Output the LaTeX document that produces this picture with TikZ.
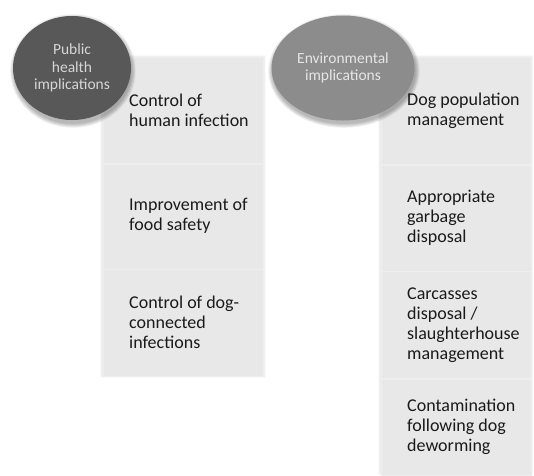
\documentclass[tikz,border=0pt]{standalone}
\usepackage{fontspec}
\setmainfont{Carlito}
\usetikzlibrary{shapes.geometric}
\definecolor{cellfill}{HTML}{E8E8E8}
\definecolor{cellline}{HTML}{EEEEEE}
\definecolor{darkell}{HTML}{585858}
\definecolor{lightell}{HTML}{8C8C8C}
\definecolor{darktxt}{HTML}{D6D6D6}
\definecolor{lighttxt}{HTML}{E6E6E6}
\definecolor{celltxt}{HTML}{1A1A1A}
\tikzset{
  cellbox/.style={draw=cellline, line width=0.5pt, fill=cellfill, inner sep=0pt, minimum width=#1},
  celltext/.style={anchor=west, align=left, inner sep=0pt, text=celltxt,
    font=\fontsize{18}{20}\selectfont},
  elltext/.style={align=center, inner sep=0pt, font=\fontsize{15.5}{17.5}\selectfont}
}
\begin{document}
\begin{tikzpicture}[x=1pt,y=-1pt]
\useasboundingbox (0,0) rectangle (534,475);
\fill[white] (0,0) rectangle (534,475);
% soft shadows of the columns
\foreach \k in {1,...,4}{
  \fill[black, opacity=0.02] ({103-\k*0.8},{57-\k*0.5}) rectangle ({263+\k*0.8},{375+\k*0.8});
  \fill[black, opacity=0.02] ({381-\k*0.8},{57-\k*0.5}) rectangle ({531+\k*0.6},{473+\k*0.5});
}
% left column cells
\node[cellbox=160pt, minimum height=106pt, anchor=north west] (l1) at (103,57) {};
\node[cellbox=160pt, minimum height=105pt, anchor=north west] (l2) at (l1.south west) {};
\node[cellbox=160pt, minimum height=107pt, anchor=north west] (l3) at (l2.south west) {};
% right column cells
\node[cellbox=150pt, minimum height=107pt, anchor=north west] (r1) at (381,57) {};
\node[cellbox=150pt, minimum height=106pt, anchor=north west] (r2) at (r1.south west) {};
\node[cellbox=150pt, minimum height=107pt, anchor=north west] (r3) at (r2.south west) {};
\node[cellbox=150pt, minimum height=96pt, anchor=north west] (r4) at (r3.south west) {};
% texts
\node[celltext] (tl1) at ([xshift=26pt]l1.west) {Control of\\human infection};
\node[celltext] (tl2) at ([xshift=26pt]l2.west) {Improvement of\\food safety};
\node[celltext] (tl3) at ([xshift=26pt]l3.west) {Control of dog-\\connected\\infections};
\node[celltext] (tr1) at ([xshift=26pt]r1.west) {Dog population\\management};
\node[celltext] (tr2) at ([xshift=26pt]r2.west) {Appropriate\\garbage\\disposal};
\node[celltext] (tr3) at ([xshift=26pt]r3.west) {Carcasses\\disposal /\\slaughterhouse\\management};
\node[celltext] (tr4) at ([xshift=26pt]r4.west) {Contamination\\following dog\\deworming};
% shadows of ellipses
\foreach \k in {1,...,6}{
  \fill[black, opacity=0.05] (73,71) ellipse ({58+\k*0.8} and {52+\k*0.8});
  \fill[black, opacity=0.05] (344,71) ellipse ({71+\k*0.8} and {52+\k*0.8});
}
% ellipses
\node[ellipse, fill=darkell, minimum width=118pt, minimum height=104pt, inner sep=0pt] (pub) at (72,68) {};
\node[elltext, text=darktxt] (pubt) at (pub.center) {Public\\health\\implications};
\node[ellipse, fill=lightell, minimum width=143pt, minimum height=105pt, inner sep=0pt] (env) at (343,68) {};
\node[elltext, text=lighttxt] (envt) at (env.center) {Environmental\\implications};
\end{tikzpicture}
\end{document}
